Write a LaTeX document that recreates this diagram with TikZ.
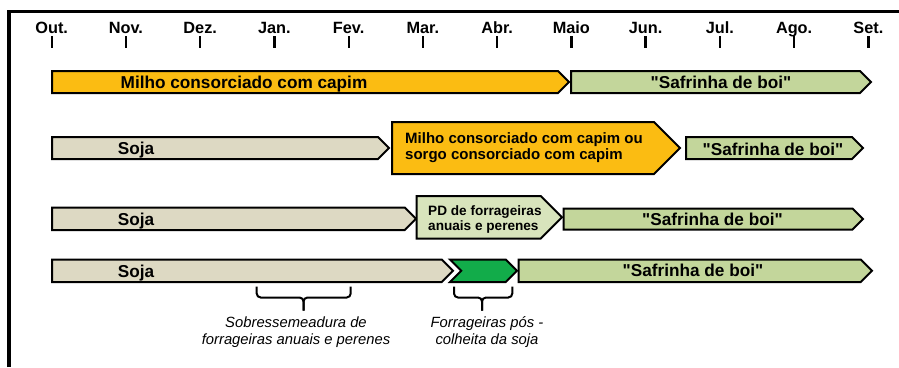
\documentclass[tikz,border=0pt]{standalone}
\usepackage{fontspec}
\setmainfont{Liberation Sans}[Ligatures=TeXOff]
\definecolor{corn}{HTML}{FBBC12}
\definecolor{boi}{HTML}{C3D69B}
\definecolor{soja}{HTML}{DDD9C3}
\definecolor{pd}{HTML}{D8E4BC}
\definecolor{dgreen}{HTML}{12AC4A}
\newcommand\mychev[5]{%
  \pgfmathsetmacro\cd{(#4-#3)/2}%
  \pgfmathsetmacro\cm{(#4+#3)/2}%
  \pgfmathsetmacro\cb{#2-\cd}%
  \draw[bar,#5] (#1,#3) -- (\cb,#3) -- (#2,\cm) -- (\cb,#4) -- (#1,#4) -- cycle;}
\begin{document}
\begin{tikzpicture}[x=1pt,y=-1pt,
  bar/.style={draw=black,line width=2pt,line join=miter},
  tick/.style={line width=2.3pt},
  month/.style={font=\bfseries\fontsize{16.3}{18}\selectfont,inner sep=0,anchor=base},
  lbl/.style={font=\bfseries\fontsize{17.2}{20}\selectfont,inner sep=0,anchor=base},
  lblm/.style={font=\bfseries\fontsize{15}{16.5}\selectfont,inner sep=0,anchor=base west,align=left},
  lblpd/.style={font=\bfseries\fontsize{13.6}{15.5}\selectfont,inner sep=0,anchor=base west,align=left},
  note/.style={font=\itshape\fontsize{14.8}{16.6}\selectfont,inner sep=0,anchor=base,align=center},
  bracepath/.style={line width=2pt,rounded corners=4pt}]
\useasboundingbox (0,0) rectangle (899,367);
% frame
\draw[line width=3.3pt,line join=miter] (9,367) -- (9,11.7) -- (899,11.7);
% months
\foreach \m [count=\i from 0] in {Out.,Nov.,Dez.,Jan.,Fev.,Mar.,Abr.,Maio,Jun.,Jul.,Ago.,Set.}{
  \pgfmathsetmacro\mx{51.7+74.24*\i}
  \node[month] (m\i) at (\mx,33.3) {\m};
  \draw[tick] (\mx,36) -- (\mx,48);
}
% row 1
\mychev{52}{569}{71}{93}{fill=corn}
\mychev{571}{871}{71}{93}{fill=boi}
\node[lbl] (r1a) at (244,88.3) {Milho consorciado com capim};
\node[lbl] (r1b) at (721,88.3) {"Safrinha de boi"};
% row 2
\mychev{52}{389}{137}{159}{fill=soja}
\mychev{392}{680}{122}{174}{fill=corn}
\mychev{686}{863}{137}{159}{fill=boi}
\node[lbl] (r2a) at (136,154.3) {Soja};
\node[lblm] (r2b) at (405,159.6) {Milho consorciado com capim ou\\sorgo consorciado com capim};
\node[lbl] (r2c) at (773,155) {"Safrinha de boi"};
% row 3
\mychev{52}{416}{207.5}{230}{fill=soja}
\mychev{416.5}{562}{196}{238.5}{fill=pd}
\mychev{563.5}{863}{208.5}{229.5}{fill=boi}
\node[lbl] (r3a) at (136,225) {Soja};
\node[lblpd] (r3b) at (428,230.5) {PD de forrageiras\\anuais e perenes};
\node[lbl] (r3c) at (712.5,225) {"Safrinha de boi"};
% row 4
\mychev{52}{453}{259.5}{282}{fill=soja}
\draw[draw=white,line width=5pt,line join=miter,fill=dgreen] (450,259.5) -- (505.7,259.5) -- (517,270.75) -- (505.7,282) -- (450,282) -- (461.2,270.75) -- cycle;
\draw[bar,fill=dgreen] (450,259.5) -- (505.7,259.5) -- (517,270.75) -- (505.7,282) -- (450,282) -- (461.2,270.75) -- cycle;
\mychev{518.5}{872}{259.5}{282}{fill=boi}
\node[lbl] (r4a) at (136,277.3) {Soja};
\node[lbl] (r4c) at (693,276.7) {"Safrinha de boi"};
% braces
\draw[bracepath] (256.7,286.7) -- (256.7,297.5) -- (303.5,297.5) -- (303.5,310.5);
\draw[bracepath] (350.7,286.7) -- (350.7,297.5) -- (303.5,297.5) -- (303.5,310.5);
\draw[bracepath] (454,286.7) -- (454,297.5) -- (482,297.5) -- (482,310.5);
\draw[bracepath] (512.3,286.7) -- (512.3,297.5) -- (482,297.5) -- (482,310.5);
\node[note] (n1) at (296,344.3) {Sobressemeadura de\\forrageiras anuais e perenes};
\node[note] (n2) at (487,344.3) {Forrageiras pós -\\colheita da soja};
\end{tikzpicture}
\end{document}
